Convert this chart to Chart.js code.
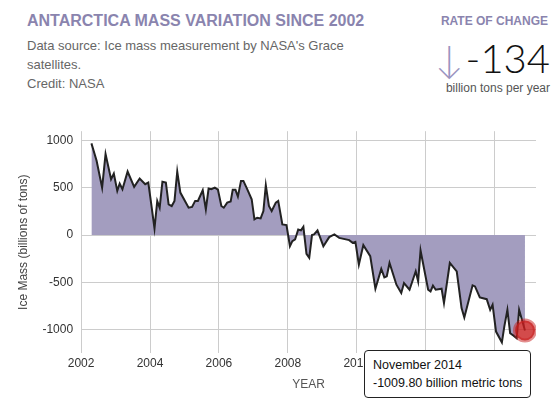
<!DOCTYPE html>
<html>
<head>
<meta charset="utf-8">
<script src="https://cdn.jsdelivr.net/npm/chart.js@4/dist/chart.umd.min.js"></script>
<style>
  body{margin:0;width:556px;height:408px;background:#fff;font-family:"Liberation Sans",Arial,sans-serif;position:relative;overflow:hidden}
  #title{position:absolute;left:27px;top:12px;font-size:16px;font-weight:bold;color:#8a84ae}
  #source{position:absolute;left:27px;top:36px;font-size:13px;line-height:19px;color:#666}
  #rate{position:absolute;right:8px;top:14px;text-align:right;color:#8a84ae;font-size:12px;font-weight:bold}
  #big{position:absolute;right:6px;top:36px;font-size:40px;color:#111;line-height:44px;font-family:Lato,"Liberation Sans",sans-serif;font-weight:300}
  #big span{color:#9a93c0;font-size:38px;margin-right:2px;font-weight:300}
  #unit{position:absolute;right:6px;top:81px;font-size:12px;color:#555}
  #wrap{position:absolute;left:0;top:116px;width:556px;height:284px}
  #tip{position:absolute;background:#fff;border:1px solid #222;border-radius:4px;font-size:12.5px;line-height:18px;padding:5px 8px;color:#111;white-space:nowrap}
</style>
</head>
<body>
<div id="title">ANTARCTICA MASS VARIATION SINCE 2002</div>
<div id="source">Data source: Ice mass measurement by NASA's Grace<br>satellites.<br>Credit: NASA</div>
<div id="rate">RATE OF CHANGE</div>
<div id="big"><span>&#8595;</span>-134</div>
<div id="unit">billion tons per year</div>
<div id="wrap"><canvas id="c"></canvas></div>
<div id="tip"></div>
<script>
const years = [2002.30,2002.45,2002.61,2002.71,2002.87,2002.95,2003.05,2003.12,2003.20,2003.35,2003.54,2003.70,2003.86,2003.95,2004.01,2004.13,2004.21,2004.28,2004.36,2004.46,2004.54,2004.63,2004.71,2004.79,2004.88,2005.12,2005.22,2005.31,2005.39,2005.53,2005.62,2005.70,2005.78,2005.88,2005.97,2006.07,2006.14,2006.24,2006.34,2006.40,2006.48,2006.55,2006.64,2006.71,2006.82,2006.95,2007.03,2007.11,2007.21,2007.29,2007.36,2007.45,2007.53,2007.65,2007.72,2007.84,2007.96,2008.06,2008.13,2008.21,2008.30,2008.38,2008.45,2008.54,2008.62,2008.70,2008.76,2008.86,2009.03,2009.20,2009.35,2009.49,2009.78,2009.88,2009.96,2010.06,2010.19,2010.39,2010.54,2010.71,2010.80,2010.87,2010.95,2011.15,2011.29,2011.37,2011.53,2011.71,2011.78,2011.85,2012.07,2012.14,2012.21,2012.29,2012.46,2012.53,2012.70,2012.90,2013.04,2013.12,2013.36,2013.43,2013.57,2013.77,2013.87,2013.94,2014.04,2014.21,2014.28,2014.37,2014.45,2014.55,2014.64,2014.71,2014.88];
const mass = [971,787,503,858,592,652,468,546,486,673,511,599,539,556,397,71,362,290,564,556,326,308,362,673,450,290,298,362,362,475,273,493,486,503,482,308,290,344,355,479,479,408,574,574,486,380,167,184,177,255,528,308,255,344,362,113,106,-117,-64,-46,60,50,88,-199,-241,0,7,50,-117,-21,7,-29,-53,-82,-71,-312,-106,-223,-567,-358,-447,-436,-295,-525,-613,-507,-578,-383,-489,-163,-578,-596,-535,-578,-567,-720,-295,-383,-773,-872,-532,-543,-660,-678,-791,-737,-1021,-1135,-968,-791,-1039,-1064,-1092,-791,-1009.8];
const xTicks = [2002,2004,2006,2008,2010,2012,2014];
const yTicks = [-1000,-500,0,500,1000];
const lastLabel = "November 2014";
const lastText = "-1009.80 billion metric tons";

const last = mass.length - 1;
const chart = new Chart(document.getElementById('c'), {
  type: 'line',
  data: {
    datasets: [{
      data: years.map((y,i)=>({x:y, y:mass[i]})),
      borderColor: '#222',
      borderWidth: 2,
      backgroundColor: '#a39dbf',
      fill: 'origin',
      tension: 0,
      pointRadius: years.map((y,i)=>i===last?10:0),
      pointBackgroundColor: 'rgba(200,30,30,0.8)',
      pointBorderColor: 'rgba(200,30,30,0.5)',
      pointBorderWidth: 4
    }]
  },
  options: {
    responsive: true, maintainAspectRatio: false, animation: false,
    layout: {padding: {left: 12, right: 20, top: 4, bottom: 4}},
    plugins: {legend: {display: false}, tooltip: {enabled: false}},
    scales: {
      x: {
        type: 'linear', min: 2002, max: 2015.2,
        afterBuildTicks: s => { s.ticks = xTicks.map(v=>({value:v})); },
        ticks: {color: '#333', font: {size: 12}, maxRotation: 0, callback: v => String(v)},
        grid: {color: '#ccc', drawTicks: false},
        border: {display: false},
        title: {display: true, text: 'YEAR', color: '#555', font: {size: 12}}
      },
      y: {
        min: -1250, max: 1100,
        afterBuildTicks: s => { s.ticks = yTicks.map(v=>({value:v})); },
        ticks: {color: '#333', font: {size: 12}, padding: 8, callback: v => String(v)},
        grid: {color: '#ccc', drawTicks: false},
        border: {display: false},
        title: {display: true, text: 'Ice Mass (billions of tons)', color: '#444', font: {size: 12}}
      }
    }
  }
});

const tip = document.getElementById('tip');
tip.innerHTML = lastLabel + '<br>' + lastText;
const px = chart.scales.x.getPixelForValue(years[last]);
const py = chart.scales.y.getPixelForValue(mass[last]);
tip.style.left = (px - tip.offsetWidth + 6) + 'px';
tip.style.top = (116 + py + 19) + 'px';
</script>
</body>
</html>
